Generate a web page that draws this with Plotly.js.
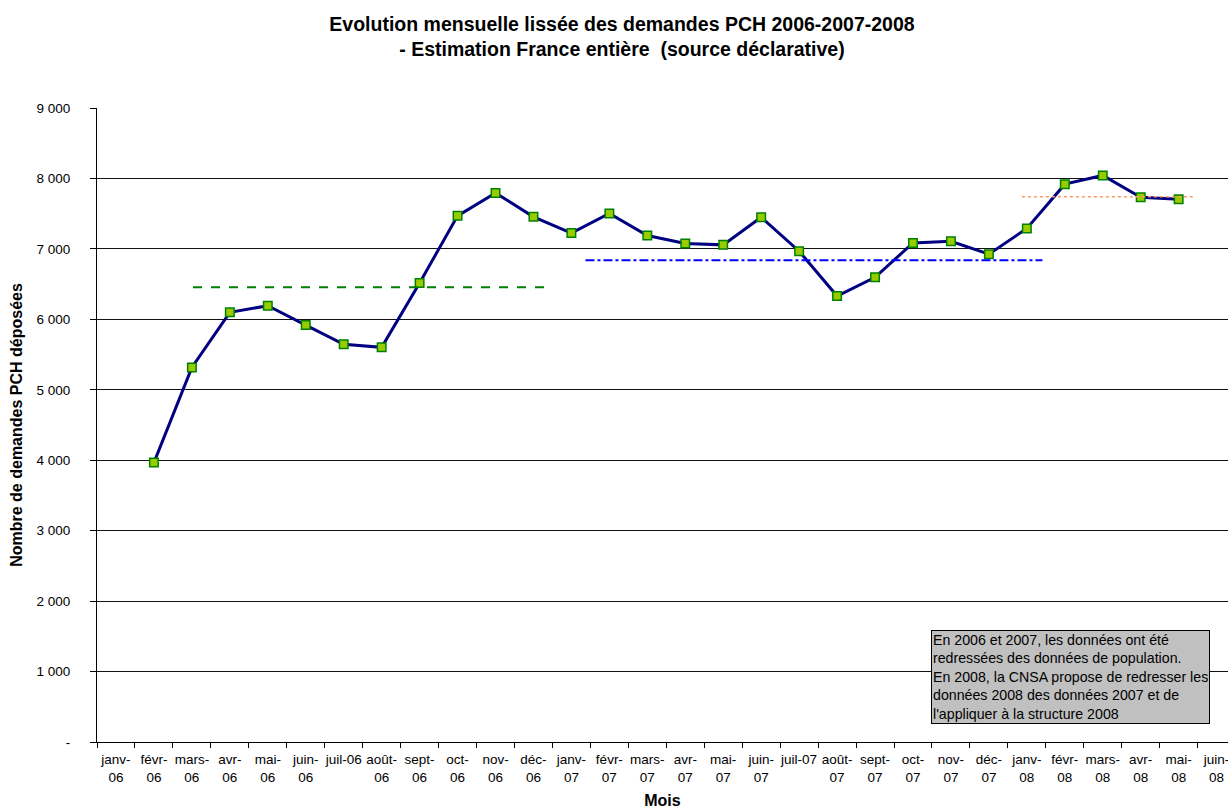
<!DOCTYPE html>
<html>
<head>
<meta charset="utf-8">
<script src="https://cdn.plot.ly/plotly-3.0.1.min.js"></script>
<style>html,body{margin:0;padding:0;background:#fff;}#chart{width:1228px;height:812px;}</style>
</head>
<body>
<div id="chart"></div>
<script>
var months = ['janv-06','févr-06','mars-06','avr-06','mai-06','juin-06','juil-06','août-06','sept-06','oct-06','nov-06','déc-06',
  'janv-07','févr-07','mars-07','avr-07','mai-07','juin-07','juil-07','août-07','sept-07','oct-07','nov-07','déc-07',
  'janv-08','févr-08','mars-08','avr-08','mai-08','juin-08'];
var monthLabels = ['janv-<br>06','févr-<br>06','mars-<br>06','avr-<br>06','mai-<br>06','juin-<br>06','juil-06','août-<br>06','sept-<br>06','oct-<br>06','nov-<br>06','déc-<br>06',
  'janv-<br>07','févr-<br>07','mars-<br>07','avr-<br>07','mai-<br>07','juin-<br>07','juil-07','août-<br>07','sept-<br>07','oct-<br>07','nov-<br>07','déc-<br>07',
  'janv-<br>08','févr-<br>08','mars-<br>08','avr-<br>08','mai-<br>08','juin-<br>08'];
var demandes = [null, 3966, 5318, 6099, 6193, 5919, 5645, 5602, 6516, 7469, 7795, 7455,
  7225, 7503, 7190, 7077, 7057, 7450, 6967, 6331, 6597, 7085, 7109, 6925,
  7290, 7919, 8043, 7734, 7706, null];
var yTickVals = [0,1000,2000,3000,4000,5000,6000,7000,8000,9000];
var yTickText = ['-','1 000','2 000','3 000','4 000','5 000','6 000','7 000','8 000','9 000'];
// average reference lines: [start index, end index, level]
var moy2006 = [2.03, 11.35, 6455];
var moy2007 = [12.37, 24.41, 6840];
var moy2008 = [23.87, 28.37, 7740];
var noteText = "En 2006 et 2007, les données ont été<br>redressées des données de population.<br>En 2008, la CNSA propose de redresser les<br>données 2008 des données 2007 et de<br>l'appliquer à la structure 2008";

var trace = {
  x: months, y: demandes, type: 'scatter', mode: 'lines+markers',
  line: {color: '#000080', width: 3},
  marker: {symbol: 'square', size: 8.5, color: '#99cc00', line: {color: '#008000', width: 1.5}},
  connectgaps: false, hoverinfo: 'x+y', showlegend: false
};

function hline(seg, color, dash, width) {
  return {type: 'line', xref: 'x', yref: 'y', x0: seg[0], x1: seg[1], y0: seg[2], y1: seg[2],
    line: {color: color, dash: dash, width: width}};
}

var layout = {
  width: 1228, height: 812,
  margin: {l: 97, r: 0, t: 108, b: 70},
  paper_bgcolor: '#fff', plot_bgcolor: '#fff',
  font: {family: 'Liberation Sans, Arial, sans-serif', size: 14, color: '#000'},
  title: {text: '<b>Evolution mensuelle lissée des demandes PCH 2006-2007-2008<br>- Estimation France entière  (source déclarative)</b>',
    font: {size: 19.5, color: '#000'}, x: 0.5065, xanchor: 'center', y: 0.9618, yanchor: 'top'},
  xaxis: {
    type: 'category', range: [-0.5, 29.3], tickmode: 'array', tickvals: months, ticktext: monthLabels,
    tickson: 'boundaries', ticks: 'outside', ticklen: 5, tickcolor: '#000', ticklabelstandoff: 5,
    showgrid: false, showline: true, linecolor: '#000', linewidth: 1, zeroline: false,
    tickangle: 0, tickfont: {size: 13.5},
    title: {text: '<b>Mois</b>', font: {size: 16}, standoff: 11}
  },
  yaxis: {
    range: [0, 9000], tickmode: 'array', tickvals: yTickVals, ticktext: yTickText,
    ticks: 'outside', ticklen: 6, tickcolor: '#000', ticklabelstandoff: 17,
    showgrid: true, gridcolor: '#111', gridwidth: 1,
    showline: true, linecolor: '#000', linewidth: 1, zeroline: false,
    tickfont: {size: 13.5},
    title: {text: '<b>Nombre de demandes PCH déposées</b>', font: {size: 16}, standoff: 9}
  },
  shapes: [
    hline(moy2006, '#008000', 'dash', 2),
    hline(moy2007, '#0000ff', 'dashdot', 2),
    hline(moy2008, '#ff9966', 'dot', 1.5)
  ],
  annotations: [{
    text: noteText, xref: 'paper', yref: 'paper', x: 0.7374, y: 0.1767,
    xanchor: 'left', yanchor: 'top', align: 'left', showarrow: false,
    bgcolor: '#c0c0c0', bordercolor: '#000', borderwidth: 1, borderpad: 1,
    font: {size: 14.2, color: '#000'}
  }]
};

Plotly.newPlot('chart', [trace], layout, {displayModeBar: false});
</script>
</body>
</html>
